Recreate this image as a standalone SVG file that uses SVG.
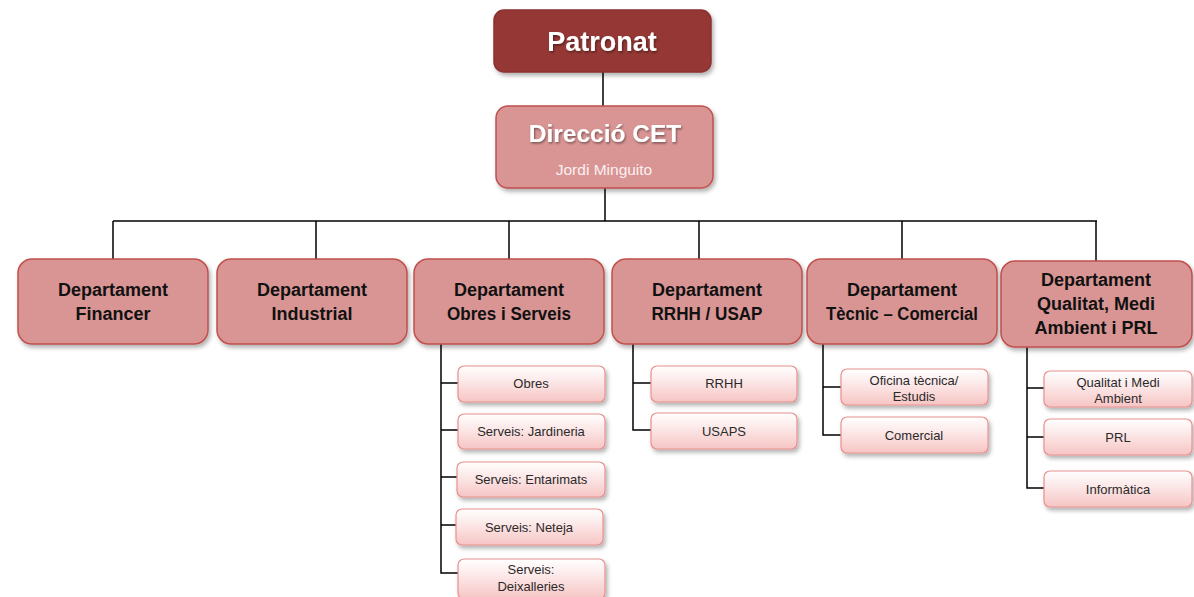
<svg xmlns="http://www.w3.org/2000/svg" width="1194" height="597" viewBox="0 0 1194 597">
<defs>
<filter id="sh" x="-10%" y="-10%" width="130%" height="140%">
<feDropShadow dx="2" dy="3" stdDeviation="2" flood-color="#000" flood-opacity="0.3"/>
</filter>
<filter id="tsh" x="-10%" y="-20%" width="130%" height="150%">
<feDropShadow dx="1" dy="1.5" stdDeviation="1" flood-color="#000" flood-opacity="0.45"/>
</filter>
<linearGradient id="sub" x1="0" y1="0" x2="0" y2="1">
<stop offset="0" stop-color="#ffffff"/>
<stop offset="0.45" stop-color="#fce6e6"/>
<stop offset="1" stop-color="#f6c5c4"/>
</linearGradient>
</defs>
<style>
.top{fill:#953735;stroke:#8a3230;stroke-width:1.5}
.dir{fill:#d99594;stroke:#c0504d;stroke-width:1.5}
.dep{fill:#d99594;stroke:#c0504d;stroke-width:1.5}
.sb{fill:url(#sub);stroke:#e8908e;stroke-width:1.2}
.ln{stroke:#000;stroke-width:1.5;fill:none}
.tw{font-family:"Liberation Sans",Arial,sans-serif;font-weight:bold;fill:#fff;text-anchor:middle}
.td{font-family:"Liberation Sans",Arial,sans-serif;font-weight:bold;font-size:18px;fill:#111;text-anchor:middle}
.ts{font-family:"Liberation Sans",Arial,sans-serif;font-size:13px;fill:#2a2a2a;text-anchor:middle}
</style>
<rect width="1194" height="597" fill="#fff"/>
<g id="connectors">
<path class="ln" d="M603 72V106"/>
<path class="ln" d="M605 188V221"/>
<path class="ln" d="M113 221H1097"/>
<path class="ln" d="M113 221V259M316 221V259M509 221V259M699 221V259M902 221V259M1096 221V261"/>
<path class="ln" d="M441 344V573H458M441 383H458M441 430H458M441 477H457M441 525H456"/>
<path class="ln" d="M633 344V430H651M633 383H651"/>
<path class="ln" d="M823 344V435H841M823 387H841"/>
<path class="ln" d="M1027 347V488H1044M1027 388H1044M1027 437H1044"/>
</g>
<g id="patronat">
<rect class="top" x="494" y="10" width="217" height="62" rx="10" filter="url(#sh)"/>
<text class="tw" x="602" y="51" font-size="27" filter="url(#tsh)">Patronat</text>
</g>
<g id="direccio">
<rect class="dir" x="496" y="106" width="217" height="82" rx="12" filter="url(#sh)"/>
<text class="tw" x="605" y="142" font-size="24.5" filter="url(#tsh)">Direcció CET</text>
<text x="604" y="175" font-family="'Liberation Sans',Arial,sans-serif" font-size="15.5" fill="#fbf0f0" text-anchor="middle">Jordi Minguito</text>
</g>
<g id="dep-financer">
<rect class="dep" x="18" y="259" width="190" height="85" rx="14" filter="url(#sh)"/>
<text class="td" x="113" y="296">Departament</text>
<text class="td" x="113" y="320">Financer</text>
</g>
<g id="dep-industrial">
<rect class="dep" x="217" y="259" width="190" height="85" rx="14" filter="url(#sh)"/>
<text class="td" x="312" y="296">Departament</text>
<text class="td" x="312" y="320">Industrial</text>
</g>
<g id="dep-obres">
<rect class="dep" x="414" y="259" width="190" height="85" rx="14" filter="url(#sh)"/>
<text class="td" x="509" y="296">Departament</text>
<text class="td" x="509" y="320" textLength="124" lengthAdjust="spacingAndGlyphs">Obres i Serveis</text>
</g>
<g id="dep-rrhh">
<rect class="dep" x="612" y="259" width="190" height="85" rx="14" filter="url(#sh)"/>
<text class="td" x="707" y="296">Departament</text>
<text class="td" x="707" y="320" textLength="111" lengthAdjust="spacingAndGlyphs">RRHH / USAP</text>
</g>
<g id="dep-tecnic">
<rect class="dep" x="807" y="259" width="190" height="85" rx="14" filter="url(#sh)"/>
<text class="td" x="902" y="296">Departament</text>
<text class="td" x="902" y="320" textLength="152" lengthAdjust="spacingAndGlyphs">Tècnic – Comercial</text>
</g>
<g id="dep-qualitat">
<rect class="dep" x="1001" y="261" width="191" height="86" rx="14" filter="url(#sh)"/>
<text class="td" x="1096" y="286">Departament</text>
<text class="td" x="1096" y="310">Qualitat, Medi</text>
<text class="td" x="1096" y="334">Ambient i PRL</text>
</g>
<g id="sub-obres">
<rect class="sb" x="458" y="366" width="147" height="36" rx="6" filter="url(#sh)"/>
<text class="ts" x="531" y="388">Obres</text>
</g>
<g id="sub-jardineria">
<rect class="sb" x="458" y="414" width="147" height="35" rx="6" filter="url(#sh)"/>
<text class="ts" x="531" y="436">Serveis: Jardineria</text>
</g>
<g id="sub-entarimats">
<rect class="sb" x="457" y="462" width="148" height="35" rx="6" filter="url(#sh)"/>
<text class="ts" x="531" y="484">Serveis: Entarimats</text>
</g>
<g id="sub-neteja">
<rect class="sb" x="456" y="509" width="147" height="36" rx="6" filter="url(#sh)"/>
<text class="ts" x="529" y="532">Serveis: Neteja</text>
</g>
<g id="sub-deixalleries">
<rect class="sb" x="458" y="559" width="147" height="40" rx="6" filter="url(#sh)"/>
<text class="ts" x="531" y="574">Serveis:</text>
<text class="ts" x="531" y="591">Deixalleries</text>
</g>
<g id="sub-rrhh">
<rect class="sb" x="651" y="366" width="146" height="36" rx="6" filter="url(#sh)"/>
<text class="ts" x="724" y="388">RRHH</text>
</g>
<g id="sub-usaps">
<rect class="sb" x="651" y="413" width="146" height="36" rx="6" filter="url(#sh)"/>
<text class="ts" x="724" y="436">USAPS</text>
</g>
<g id="sub-oficina">
<rect class="sb" x="841" y="369" width="147" height="36" rx="6" filter="url(#sh)"/>
<text class="ts" x="914" y="385">Oficina tècnica/</text>
<text class="ts" x="914" y="401">Estudis</text>
</g>
<g id="sub-comercial">
<rect class="sb" x="841" y="417" width="147" height="36" rx="6" filter="url(#sh)"/>
<text class="ts" x="914" y="440">Comercial</text>
</g>
<g id="sub-qualitat">
<rect class="sb" x="1044" y="371" width="148" height="36" rx="6" filter="url(#sh)"/>
<text class="ts" x="1118" y="387">Qualitat i Medi</text>
<text class="ts" x="1118" y="403">Ambient</text>
</g>
<g id="sub-prl">
<rect class="sb" x="1044" y="419" width="148" height="36" rx="6" filter="url(#sh)"/>
<text class="ts" x="1118" y="442">PRL</text>
</g>
<g id="sub-informatica">
<rect class="sb" x="1044" y="471" width="148" height="36" rx="6" filter="url(#sh)"/>
<text class="ts" x="1118" y="494">Informàtica</text>
</g>
</svg>
